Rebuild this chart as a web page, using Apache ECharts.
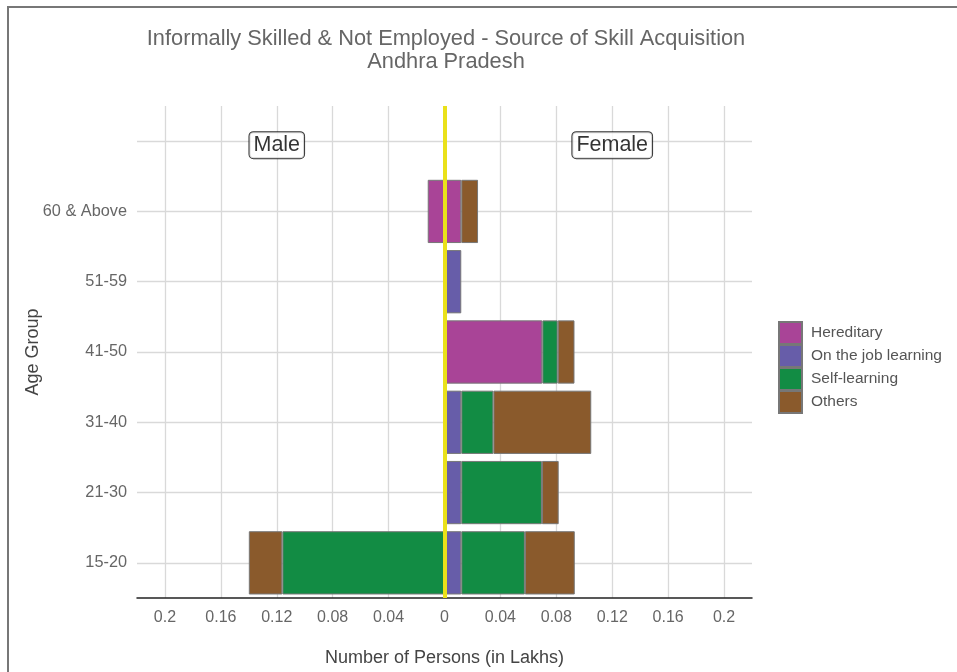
<!DOCTYPE html>
<html>
<head>
<meta charset="utf-8">
<script src="https://cdn.jsdelivr.net/npm/echarts@6/dist/echarts.min.js"></script>
<style>
  html, body { margin: 0; padding: 0; background: #fff; }
  #chart { width: 957px; height: 672px; }
  #frame {
    position: absolute; left: 7px; top: 6px; right: 0; bottom: 0;
    border-top: 2px solid #777; border-left: 2px solid #777;
    pointer-events: none;
  }
</style>
</head>
<body>
<div id="chart"></div>
<div id="frame"></div>
<script>
// 年龄组（自下而上），最上面留一个空档放 Male / Female 标签
const ageGroups = ['15-20', '21-30', '31-40', '41-50', '51-59', '60 & Above', '']
const sources = ['Hereditary', 'On the job learning', 'Self-learning', 'Others']
const colors = ['#A94497', '#675DA9', '#128C44', '#8A5A2C']

// 男性（单位：十万人，画在左侧）
const maleHereditary = [0, 0, 0, 0, 0, 0.012]
const maleOnJob = [0, 0, 0, 0, 0, 0]
const maleSelf = [0.116, 0, 0, 0, 0, 0]
const maleOthers = [0.024, 0, 0, 0, 0, 0]

// 女性（画在右侧）
const femaleHereditary = [0, 0, 0, 0.07, 0, 0.012]
const femaleOnJob = [0.012, 0.012, 0.012, 0, 0.012, 0]
const femaleSelf = [0.0455, 0.0577, 0.023, 0.011, 0, 0]
const femaleOthers = [0.0357, 0.012, 0.07, 0.012, 0, 0.012]

const xTicks = [-0.2, -0.16, -0.12, -0.08, -0.04, 0, 0.04, 0.08, 0.12, 0.16, 0.2]
const sideLabels = [['Male', -0.12], ['Female', 0.12]]

const maleData = [maleHereditary, maleOnJob, maleSelf, maleOthers]
const femaleData = [femaleHereditary, femaleOnJob, femaleSelf, femaleOthers]

const barSeries = []
sources.forEach((name, i) => {
  // 0 值不画，避免出现只有边框的细线
  barSeries.push({
    name: name, type: 'bar', stack: 'total', barWidth: '90%',
    data: maleData[i].map(v => (v ? -v : '-')),
    itemStyle: { color: colors[i], borderColor: '#777', borderWidth: 1 }
  })
  barSeries.push({
    name: name, type: 'bar', stack: 'total', barWidth: '90%',
    data: femaleData[i].map(v => (v ? v : '-')),
    itemStyle: { color: colors[i], borderColor: '#777', borderWidth: 1 }
  })
})

const chart = echarts.init(document.getElementById('chart'))
const font = 'Liberation Sans, Arial, sans-serif'

chart.setOption({
  animation: false,
  textStyle: { fontFamily: font },
  title: {
    text: 'Informally Skilled & Not Employed - Source of Skill Acquisition\nAndhra Pradesh',
    left: 441, top: 22, textAlign: 'center',
    textStyle: { fontSize: 21.8, fontWeight: 'normal', color: '#666', lineHeight: 23, fontFamily: font }
  },
  legend: {
    data: sources,
    orient: 'vertical', left: 773, top: 316,
    itemWidth: 23, itemHeight: 22, itemGap: -1,
    icon: 'rect',
    textStyle: { fontSize: 15.5, color: '#555', lineHeight: 18, padding: [0, 0, 0, 4] }
  },
  grid: { left: 137, right: 205, top: 106, bottom: 74 },
  xAxis: {
    type: 'value', min: -0.22, max: 0.22,
    name: 'Number of Persons (in Lakhs)', nameLocation: 'middle', nameGap: 51,
    nameTextStyle: { fontSize: 18, color: '#444' },
    axisLine: { show: true, lineStyle: { color: '#222', width: 1.5 } },
    axisTick: { show: false, customValues: xTicks },
    axisLabel: {
      customValues: xTicks, fontSize: 16, color: '#666', margin: 12,
      formatter: v => String(+Math.abs(v).toFixed(2))
    },
    splitLine: { show: true, lineStyle: { color: '#d9d9d9', width: 1.3 } }
  },
  yAxis: {
    type: 'category', data: ageGroups,
    name: 'Age Group', nameLocation: 'middle', nameGap: 95, nameMoveOverlap: false,
    nameTextStyle: { fontSize: 18, color: '#444' },
    axisLine: { show: false },
    axisTick: { show: false },
    axisLabel: { fontSize: 16.3, color: '#666', margin: 10 },
    splitLine: { show: true, alignWithLabel: true, lineStyle: { color: '#d9d9d9', width: 1.3 } }
  },
  series: barSeries.concat([{
    name: 'labels', type: 'scatter', symbolSize: 0, z: 10,
    data: sideLabels.map(d => ({ name: d[0], value: [d[1], ageGroups.length - 1] })),
    label: {
      show: true, position: 'inside', formatter: '{b}', offset: [0, 4],
      fontSize: 21.5, color: '#000', backgroundColor: '#fff',
      borderColor: '#000', borderWidth: 1, borderRadius: 4, padding: [3, 4, 1, 4]
    },
    markLine: {
      silent: true, symbol: 'none', z: 8,
      label: { show: false },
      lineStyle: { color: '#EAE11A', width: 4, type: 'solid' },
      data: [{ xAxis: 0 }]
    }
  }])
})
</script>
</body>
</html>
